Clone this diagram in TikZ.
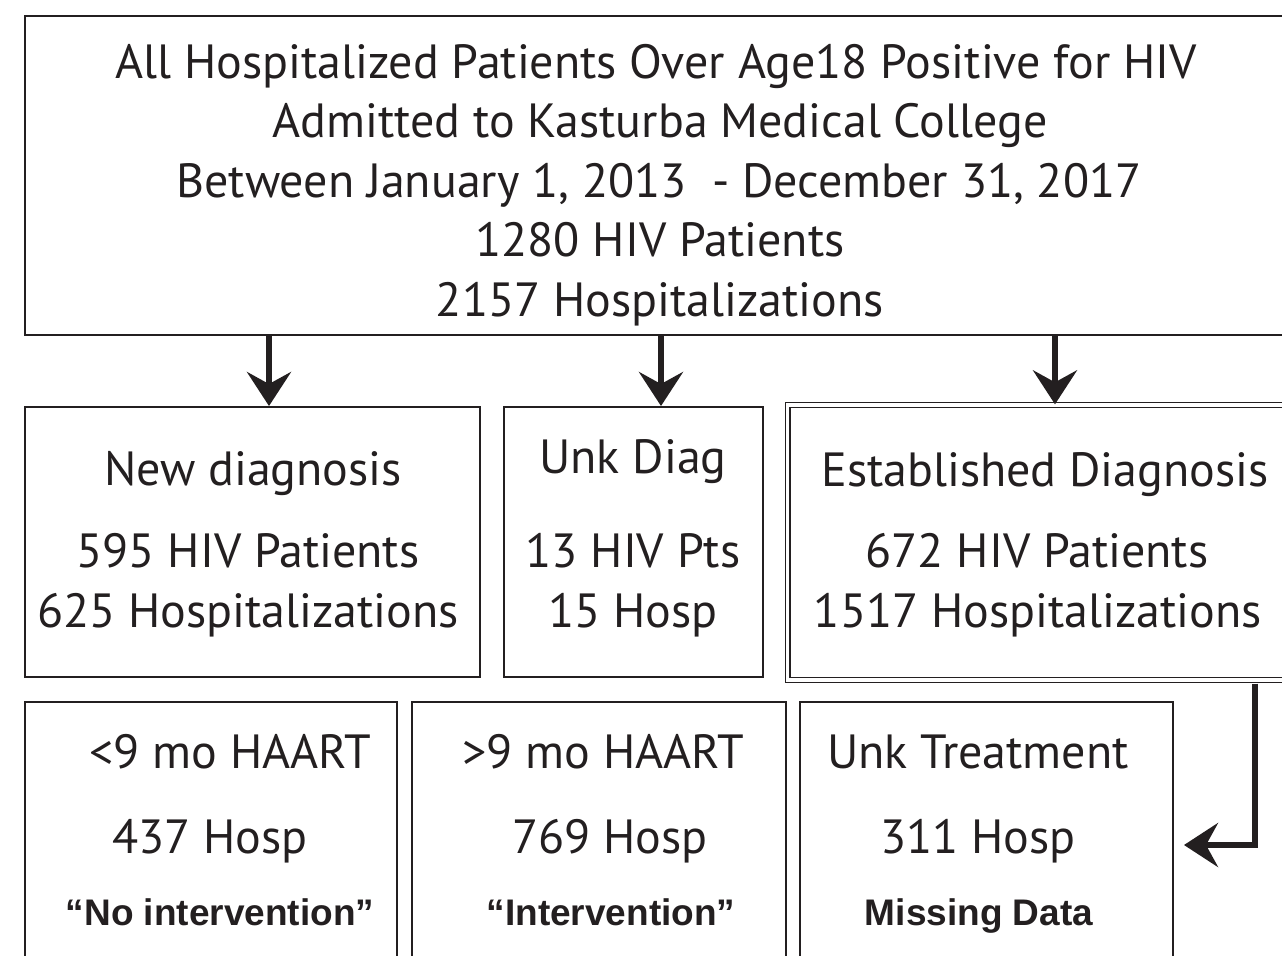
\documentclass[tikz,border=0pt]{standalone}
\usepackage{fontspec}
\setmainfont{PT Sans}
\newfontfamily\heavyfont{Liberation Sans}
\usetikzlibrary{arrows.meta}
\definecolor{ink}{HTML}{231F20}
\tikzstyle{box}=[draw=ink, line width=1pt, inner sep=0pt]
\tikzstyle{dbox}=[draw=ink, double, double distance=1.6pt, line width=0.7pt, inner sep=0pt]
\tikzstyle{flow}=[draw=ink, line width=3pt, -{Stealth[length=17pt,width=22pt,inset=6pt]}]
\tikzstyle{txt}=[anchor=base, inner sep=0pt, text=ink, font=\fontsize{24}{28}\selectfont]
\tikzstyle{heavytxt}=[anchor=base, inner sep=0pt, text=ink, font=\heavyfont\bfseries\fontsize{18.5}{21}\selectfont]
% box from corners given in pixels: [style]{name}{x1}{y1}{x2}{y2}
\newcommand{\boxat}[6][box]{
  \node[#1, minimum width={(#5-#3)*0.5pt}, minimum height={(#6-#4)*0.5pt}] (#2) at ({(#3+#5)/2},{(#4+#6)/2}) {};
}
\begin{document}
\begin{tikzpicture}[x=0.5pt, y=-0.5pt]
  \useasboundingbox (0,0) rectangle (1282,955);
  \clip (0,0) rectangle (1282,955);
  % boxes
  \boxat{all}{25}{16}{1320}{335}
  \boxat{new}{25}{407}{480}{677}
  \boxat{unk}{504}{407}{763}{677}
  \boxat[dbox]{est}{787.5}{405}{1320}{680}
  \boxat{short}{25}{702}{397}{990}
  \boxat{long}{412}{702}{786}{990}
  \boxat{miss}{800}{702}{1173}{990}
  % top box text
  \node[txt] (l1) at (656,78) {All Hospitalized Patients Over Age18 Positive for HIV};
  \node[txt] (l2) at (660,137.5) {Admitted to Kasturba Medical College};
  \node[txt] (l3) at (659,197) {Between January 1, 2013 \ - December 31, 2017};
  \node[txt] (l4) at (660,256.5) {1280 HIV Patients};
  \node[txt] (l5) at (660,316) {2157 Hospitalizations};
  % second row
  \node[txt] (n1) at (253,485) {New diagnosis};
  \node[txt] (n2) at (248,567) {595 HIV Patients};
  \node[txt] (n3) at (248,627) {625 Hospitalizations};
  \node[txt] (u1) at (633,473) {Unk Diag};
  \node[txt] (u2) at (633,567) {13 HIV Pts};
  \node[txt] (u3) at (633,627) {15 Hosp};
  \node[txt] (e1) at (1045,486) {Established Diagnosis};
  \node[txt] (e2) at (1037,567) {672 HIV Patients};
  \node[txt] (e3) at (1038,627) {1517 Hospitalizations};
  % third row
  \node[txt] (s1) at (230,768) {<9 mo HAART};
  \node[txt] (s2) at (210,853) {437 Hosp};
  \node[heavytxt] (s3) at (220,925) {“No intervention”};
  \node[txt] (g1) at (603,768) {>9 mo HAART};
  \node[txt] (g2) at (610,853) {769 Hosp};
  \node[heavytxt] (g3) at (611,925) {“Intervention”};
  \node[txt] (m1) at (978,768) {Unk Treatment};
  \node[txt] (m2) at (978,853) {311 Hosp};
  \node[heavytxt] (m3) at (979,925) {Missing Data};
  % arrows
  \coordinate (a1) at (269,0);
  \coordinate (a2) at (661,0);
  \coordinate (a3) at (1055,0);
  \coordinate (bend) at (1255,845);
  \draw[flow] (all.south -| a1) -- (new.north -| a1);
  \draw[flow] (all.south -| a2) -- (unk.north -| a2);
  \draw[flow] (all.south -| a3) -- (est.north -| a3);
  \draw[flow] ([yshift=-1.5pt]est.south -| bend) |- ([xshift=5pt]miss.east |- bend);
\end{tikzpicture}
\end{document}
